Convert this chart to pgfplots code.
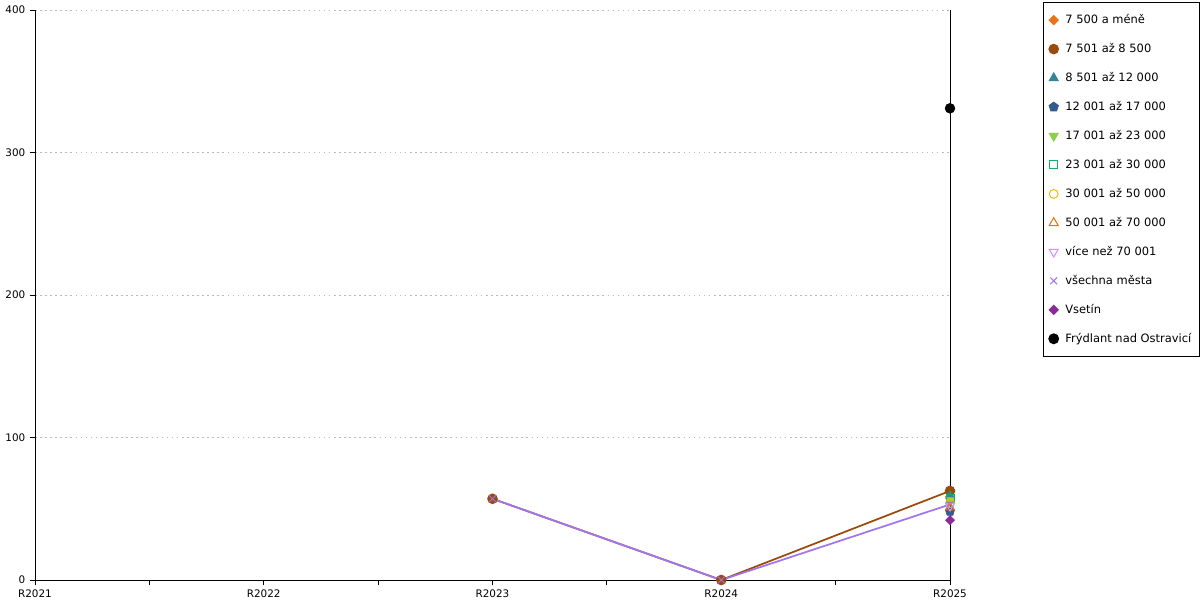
\documentclass[border=0pt]{standalone}
\usepackage{fontspec}
\setmainfont{DejaVu Sans}
\usepackage{pgfplots}
\pgfplotsset{compat=1.18}

\definecolor{cOrange}{HTML}{EC7216}
\definecolor{cBrown}{HTML}{9A4A0C}
\definecolor{cTeal}{HTML}{2F8699}
\definecolor{cBlue}{HTML}{335C8C}
\definecolor{cLime}{HTML}{8CCF4A}
\definecolor{cGreen}{HTML}{13B05A}
\definecolor{cYellow}{HTML}{F8B80E}
\definecolor{cOrange2}{HTML}{F86C10}
\definecolor{cPink}{HTML}{E58AF2}
\definecolor{cPurple}{HTML}{A274EE}
\definecolor{cMagenta}{HTML}{8B2B97}

\begin{document}
\begin{tikzpicture}
\useasboundingbox (-26.25pt,-15pt) rectangle (873.75pt,435pt);
\fill[white] (-26.25pt,-15pt) rectangle (873.75pt,435pt);
\begin{axis}[
  scale only axis,
  width=686.25pt, height=427.5pt,
  xmin=0, xmax=4, ymin=0, ymax=400,
  axis x line=bottom, axis y line=box,
  axis line style={-, line width=0.7pt, black},
  ytick pos=left,
  xtick={0,1,2,3,4},
  xticklabels={R2021,R2022,R2023,R2024,R2025},
  minor x tick num=1,
  ytick={0,100,200,300,400},
  tick align=outside,
  major tick length=3.75pt, minor tick length=3.75pt,
  tick style={black, line width=0.7pt},
  ymajorgrids=true,
  grid style={gray!55, line width=0.6pt, dash pattern=on 1.2pt off 2.6pt},
  ticklabel style={font=\fontsize{7.8}{9}\selectfont},
  /pgf/number format/assume math mode=true,
  clip=false,
  legend cell align=left,
  legend image code/.code={\draw[#1,only marks] plot coordinates {(0pt,0pt)};},
  legend style={at={(1.1016,1.014)}, anchor=north west, draw=black,
    line width=0.75pt, fill=white, inner xsep=4pt, inner ysep=7pt,
    row sep=9.35pt, font=\fontsize{8.6}{10}\selectfont,
    /tikz/every odd column/.append style={column sep=3pt}},
]
% 7 500 a mene
\addplot[only marks, mark=square*, mark size=2.4pt, color=cOrange, mark options={rotate=45}] coordinates {(4,58.5)};
% 7 501 az 8 500
\addplot[mark=*, mark size=3.3pt, color=cBrown, line width=1.3pt, mark options={solid}] coordinates {(2,57) (3,0) (4,62.5)};
% 8 501 az 12 000
\addplot[only marks, mark=triangle*, mark size=3.8pt, color=cTeal] coordinates {(4,59)};
% 12 001 az 17 000
\addplot[only marks, mark=pentagon*, mark size=3.6pt, color=cBlue] coordinates {(4,48)};
% 17 001 az 23 000
\addplot[only marks, mark=triangle*, mark size=3.8pt, color=cLime, mark options={rotate=180}] coordinates {(4,56)};
% 23 001 az 30 000
\addplot[only marks, mark=square, mark size=3pt, color=cGreen, mark options={line width=0.75pt}] coordinates {(4,57.5)};
% 30 001 az 50 000
\addplot[only marks, mark=o, mark size=3.3pt, color=cYellow, mark options={line width=0.75pt}] coordinates {(4,54)};
% 50 001 az 70 000
\addplot[only marks, mark=triangle, mark size=3.9pt, color=cOrange2, mark options={line width=0.75pt}] coordinates {(4,51)};
% vice nez 70 001
\addplot[only marks, mark=triangle, mark size=3.9pt, color=cPink, mark options={rotate=180, line width=0.75pt}] coordinates {(4,52)};
% vsechna mesta
\addplot[mark=x, mark size=3.6pt, color=cPurple, line width=1.3pt, mark options={line width=0.75pt}] coordinates {(2,57) (3,0) (4,53)};
% Vsetin
\addplot[only marks, mark=square*, mark size=2.4pt, color=cMagenta, mark options={rotate=45}] coordinates {(4,42)};
% Frydlant nad Ostravici
\addplot[only marks, mark=*, mark size=3.7pt, color=black] coordinates {(4,331)};
\legend{7 500 a méně, 7 501 až 8 500, 8 501 až 12 000, 12 001 až 17 000,
  17 001 až 23 000, 23 001 až 30 000, 30 001 až 50 000, 50 001 až 70 000,
  více než 70 001, všechna města, Vsetín, Frýdlant nad Ostravicí}
\end{axis}
\end{tikzpicture}
\end{document}
